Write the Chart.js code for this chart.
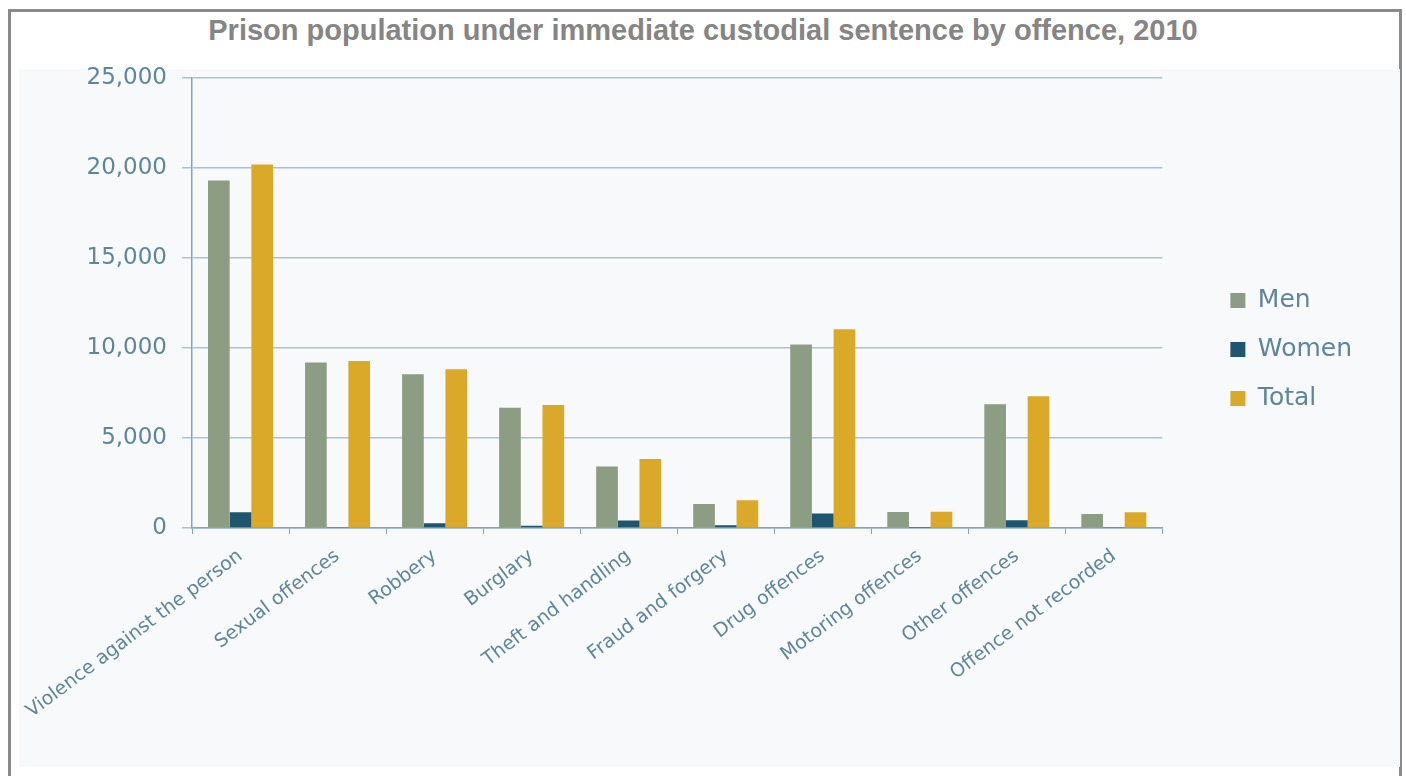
<!DOCTYPE html>
<html lang="en">
<head>
<meta charset="UTF-8">
<title>Prison population under immediate custodial sentence by offence, 2010</title>
<script src="https://cdn.jsdelivr.net/npm/chart.js"></script>
<style>
    body {
        margin: 0;
        background: #ffffff;
        font-family: 'Liberation Sans', Arial, sans-serif;
    }

    .frame {
        position: absolute;
        left: 8px;
        top: 9px;
        width: 1388px;
        height: 800px;
        border: 3px solid #8a8a8a;
        border-bottom: none;
    }

    .title {
        position: absolute;
        left: 0;
        top: 14px;
        width: 1406px;
        text-align: center;
        font-weight: bold;
        font-size: 29px;
        color: #858585;
    }

    /* light panel behind the plot */
    .chart-bg {
        position: absolute;
        left: 19px;
        top: 69px;
        width: 1381px;
        height: 698px;
        background: #f8f9fb;
    }

    .chart-box {
        position: absolute;
        left: 19px;
        top: 55px;
        width: 1381px;
        height: 712px;
    }
</style>
</head>
<body>

<div class="frame"></div>
<div class="title">Prison population under immediate custodial sentence by offence, 2010</div>
<div class="chart-bg"></div>
<div class="chart-box">
    <canvas id="chart"></canvas>
</div>

<script>
    // values
    const categories = ['Violence against the person', 'Sexual offences', 'Robbery', 'Burglary',
        'Theft and handling', 'Fraud and forgery', 'Drug offences', 'Motoring offences',
        'Other offences', 'Offence not recorded'];
    const menValues = [19300, 9200, 8540, 6680, 3410, 1330, 10200, 890, 6870, 780];
    const womenValues = [870, 60, 260, 130, 410, 150, 800, 20, 430, 50];
    const totalValues = [20200, 9280, 8820, 6830, 3830, 1540, 11040, 900, 7320, 870];
    const yTicks = [0, 5000, 10000, 15000, 20000, 25000];

    const textColor = '#5e8698';
    const gridColor = '#a9c3d2';
    const axisColor = '#7ea7be';

    // put the legend where the original has it
    const legendPlace = {
        id: 'legendPlace',
        afterLayout(chart) {
            const lg = chart.legend;
            const x0 = chart.chartArea.right + 44;
            const y0 = 209;
            lg.left = x0;
            lg.right = x0 + lg.width;
            lg.top = y0;
            lg.bottom = y0 + lg.height;
        }
    };

    const ctx = document.getElementById('chart').getContext('2d');
    new Chart(ctx, {
        type: 'bar',
        data: {
            labels: categories,
            datasets: [
                { label: 'Men', data: menValues, backgroundColor: '#8c9d83' },
                { label: 'Women', data: womenValues, backgroundColor: '#1e566d' },
                { label: 'Total', data: totalValues, backgroundColor: '#dba929' }
            ]
        },
        options: {
            responsive: true,
            maintainAspectRatio: false,
            animation: false,
            layout: {
                padding: { top: 23, right: 82, left: 0, bottom: 0 }
            },
            datasets: {
                bar: { categoryPercentage: 0.67, barPercentage: 1.0, borderWidth: 0 }
            },
            plugins: {
                legend: {
                    position: 'right',
                    align: 'start',
                    labels: {
                        boxWidth: 15,
                        boxHeight: 15,
                        padding: 24,
                        color: textColor,
                        font: { family: 'DejaVu Sans', size: 25 }
                    }
                },
                tooltip: { enabled: false }
            },
            scales: {
                x: {
                    afterFit(scale) {
                        scale.height = 239;
                        scale.paddingLeft = 0;
                        scale.paddingRight = 0;
                    },
                    grid: { offset: true, drawOnChartArea: false, tickLength: 6, color: axisColor },
                    border: { color: axisColor, width: 1.5 },
                    ticks: {
                        autoSkip: false,
                        minRotation: 37,
                        maxRotation: 37,
                        padding: 11,
                        color: textColor,
                        font: { family: 'DejaVu Sans', size: 19 }
                    }
                },
                y: {
                    min: 0,
                    max: 25000,
                    afterFit(scale) {
                        scale.width = 173;
                        scale.paddingTop = 0;
                        scale.paddingBottom = 0;
                    },
                    afterBuildTicks(scale) { scale.ticks = yTicks.map(v => ({ value: v })); },
                    grid: { color: gridColor, lineWidth: 1.5, tickLength: 10 },
                    border: { color: axisColor, width: 1.5 },
                    ticks: {
                        padding: 15,
                        color: textColor,
                        font: { family: 'DejaVu Sans', size: 23 },
                        callback: v => v.toLocaleString('en-US')
                    }
                }
            }
        },
        plugins: [legendPlace]
    });
</script>
</body>
</html>
